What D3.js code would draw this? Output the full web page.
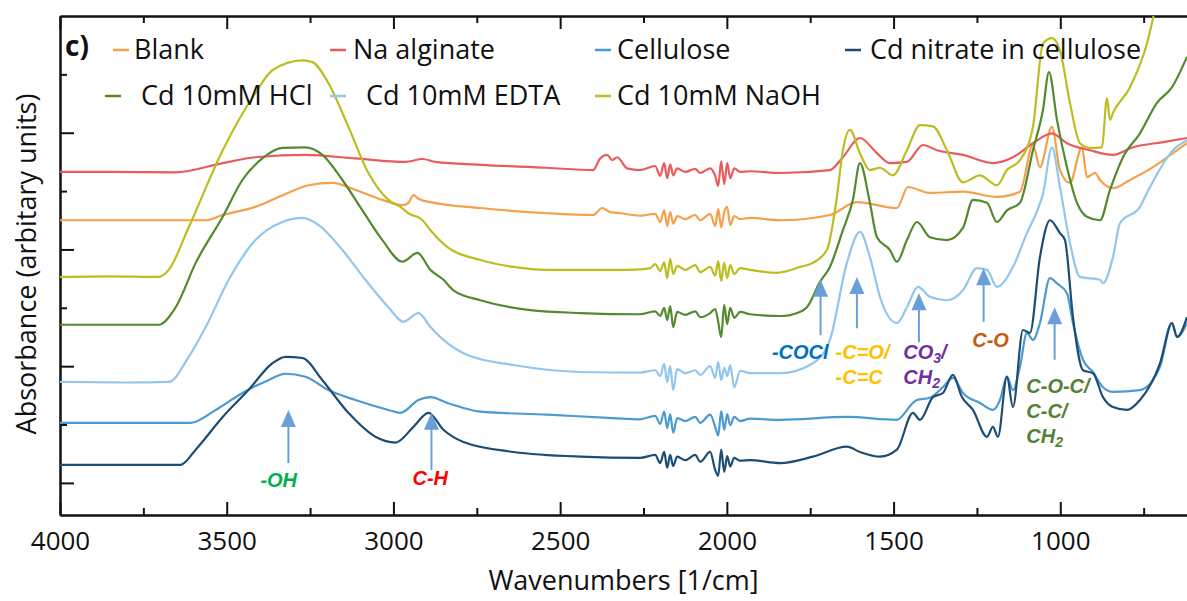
<!DOCTYPE html>
<html>
<head>
<meta charset="utf-8">
<script src="https://cdn.jsdelivr.net/npm/d3@7"></script>
<style>
    body { margin: 0; background: #fff; }
    svg { display: block; }
    text { font-family: "Open Sans", sans-serif; fill: #111; }
    .axis path, .axis line { stroke: #111; stroke-width: 2; }
    .axis text { font-size: 26px; fill: #111; font-family: "Open Sans", sans-serif; }
    .note { font-family: "Liberation Sans", Arial, sans-serif; font-weight: bold; font-style: italic; font-size: 20px; }
</style>
</head>
<body>
<div id="chart"></div>
<script>
// spectra: [wavenumber, absorbance (arb. units, stacked)]
var blank = [[4000,5.50],[3800,5.50],[3563,5.50],[3512,5.59],[3414,5.73],[3315,5.97],[3255,6.10],[3183,6.14],[3114,6.02],[3033,5.85],[2973,5.76],[2955,5.80],[2940,5.93],[2925,5.87],[2889,5.81],[2739,5.71],[2539,5.62],[2401,5.59],[2374,5.71],[2350,5.64],[2320,5.62],[2260,5.58],
    [2215,5.61],[2200,5.47],[2188,5.67],[2179,5.40],[2170,5.64],[2161,5.44],[2149,5.57],[2125,5.52],[2095,5.59],[2080,5.50],[2050,5.61],[2035,5.40],[2026,5.69],[2017,5.38],[2008,5.64],[1999,5.73],[1990,5.42],[1978,5.57],[1960,5.52],[1930,5.54],
    [1840,5.50],[1691,5.59],[1610,5.81],[1490,5.71],[1457,6.07],[1391,5.97],[1292,5.99],[1190,5.90],[1121,5.99],[1082,6.79],[1061,6.41],[1025,7.10],[1001,6.36],[971,6.14],[935,6.75],[920,6.24],[896,6.31],[881,6.19],[842,6.05],[791,6.19],[722,6.41],[662,6.65],[620,6.82]];

var naAlginate = [[4000,6.33],[3850,6.33],[3653,6.32],[3512,6.48],[3414,6.58],[3264,6.62],[3114,6.56],[2964,6.50],[2913,6.55],[2874,6.50],[2739,6.45],[2540,6.40],[2401,6.36],[2380,6.56],[2359,6.62],[2344,6.53],[2329,6.58],[2299,6.39],[2260,6.36],
    [2215,6.43],[2200,6.26],[2188,6.48],[2179,6.22],[2170,6.46],[2161,6.27],[2149,6.39],[2125,6.33],[2095,6.38],[2080,6.31],[2050,6.39],[2035,6.26],[2026,6.09],[2017,6.51],[2008,6.12],[1999,6.48],[1990,6.22],[1978,6.39],[1960,6.33],[1930,6.34],
    [1840,6.31],[1691,6.36],[1652,6.58],[1601,6.91],[1550,6.65],[1511,6.48],[1460,6.50],[1412,6.79],[1370,6.70],[1292,6.62],[1202,6.48],[1142,6.58],[1082,6.82],[1025,6.99],[980,6.82],[911,6.70],[842,6.62],[782,6.75],[692,6.84],[620,6.91]];

var cellulose = [[4000,2.03],[3800,2.03],[3608,2.03],[3533,2.25],[3453,2.54],[3375,2.76],[3324,2.87],[3264,2.82],[3195,2.59],[3114,2.42],[3015,2.25],[2979,2.20],[2925,2.42],[2889,2.47],[2838,2.37],[2739,2.22],[2539,2.17],[2341,2.11],[2260,2.09],
    [2215,2.15],[2200,2.01],[2188,2.22],[2179,1.94],[2170,2.18],[2161,1.86],[2149,2.11],[2125,2.06],[2095,2.13],[2080,2.03],[2050,2.17],[2035,1.96],[2026,1.81],[2017,2.23],[2008,1.91],[1999,2.18],[1990,1.99],[1978,2.13],[1960,2.06],[1930,2.10],
    [1840,2.08],[1640,2.13],[1490,2.08],[1442,2.37],[1430,2.42],[1391,2.46],[1352,2.64],[1322,2.80],[1292,2.54],[1241,2.37],[1202,2.25],[1181,2.42],[1160,2.82],[1142,2.59],[1121,2.99],[1100,3.57],[1082,3.45],[1061,3.74],[1031,4.51],[1010,4.42],[980,4.25],[962,3.74],[932,3.11],[902,2.90],[872,2.64],[842,2.56],[761,2.59],[701,2.99],[665,3.74],[650,3.50],[620,3.74]];

var cdNitrate = [[4000,1.31],[3800,1.31],[3638,1.31],[3593,1.57],[3512,2.13],[3435,2.59],[3363,3.05],[3324,3.16],[3273,3.14],[3213,2.76],[3135,2.20],[3054,1.79],[2994,1.69],[2940,1.96],[2895,2.20],[2850,1.91],[2790,1.70],[2640,1.53],[2440,1.45],[2260,1.43],
    [2215,1.48],[2200,1.34],[2188,1.53],[2179,1.26],[2170,1.48],[2161,1.29],[2149,1.45],[2125,1.39],[2095,1.48],[2080,1.36],[2050,1.53],[2035,1.22],[2026,1.12],[2017,1.57],[2008,1.19],[1999,1.46],[1990,1.28],[1978,1.43],[1960,1.38],[1930,1.39],
    [1840,1.34],[1742,1.45],[1640,1.62],[1601,1.53],[1541,1.45],[1490,1.57],[1442,2.20],[1421,2.08],[1382,2.47],[1352,2.54],[1322,2.85],[1295,2.47],[1262,2.25],[1220,1.79],[1202,1.96],[1187,1.79],[1160,2.82],[1142,2.30],[1112,3.62],[1091,3.57],[1061,4.87],[1031,5.50],[1001,5.28],[986,5.16],[962,3.84],[932,2.93],[902,2.88],[872,2.47],[842,2.30],[800,2.25],[761,2.42],[701,3.05],[665,3.74],[650,3.50],[620,3.84]];

var cdHCl = [[4000,3.71],[3850,3.71],[3704,3.71],[3653,4.01],[3593,4.77],[3512,5.56],[3453,6.19],[3393,6.56],[3333,6.74],[3264,6.75],[3213,6.62],[3153,6.19],[3093,5.67],[3033,5.16],[2973,4.79],[2928,4.94],[2889,4.65],[2850,4.48],[2820,4.30],[2739,4.13],[2590,3.96],[2440,3.91],[2260,3.89],
    [2215,3.94],[2200,3.86],[2188,4.00],[2179,3.79],[2170,4.03],[2161,3.67],[2149,3.93],[2125,3.88],[2095,3.94],[2080,3.84],[2050,3.91],[2035,3.98],[2026,3.76],[2017,3.50],[2008,4.05],[1999,3.72],[1990,4.00],[1978,3.83],[1960,3.93],[1930,3.89],
    [1840,3.86],[1781,3.93],[1760,4.01],[1721,4.44],[1691,4.70],[1652,5.33],[1622,5.85],[1601,6.48],[1571,5.80],[1550,5.21],[1511,4.99],[1490,4.79],[1460,5.16],[1430,5.47],[1391,5.21],[1340,5.16],[1292,5.37],[1262,5.85],[1220,5.80],[1190,5.47],[1160,5.67],[1121,5.80],[1082,6.70],[1052,7.39],[1034,8.04],[1010,7.22],[980,6.41],[950,5.80],[920,5.56],[881,5.50],[851,6.02],[812,6.58],[761,6.99],[710,7.51],[665,7.78],[620,8.30]];

var cdEDTA = [[4000,2.73],[3800,2.72],[3674,2.73],[3614,3.16],[3563,3.67],[3494,4.48],[3414,5.16],[3333,5.47],[3273,5.54],[3225,5.42],[3153,4.99],[3084,4.48],[3015,4.01],[2970,3.76],[2925,3.91],[2889,3.67],[2850,3.45],[2778,3.19],[2640,3.02],[2440,2.90],[2260,2.89],
    [2215,2.93],[2200,2.83],[2188,3.04],[2179,2.73],[2170,3.00],[2161,2.59],[2149,2.95],[2125,2.88],[2095,2.93],[2080,2.85],[2050,3.00],[2035,2.80],[2026,3.07],[2017,2.76],[2008,2.97],[1999,2.83],[1990,3.02],[1978,2.64],[1960,2.92],[1930,2.88],
    [1840,2.88],[1742,3.05],[1691,3.45],[1640,4.77],[1601,5.30],[1571,4.87],[1541,4.19],[1490,3.74],[1460,4.01],[1427,4.36],[1391,4.19],[1340,4.13],[1292,4.30],[1250,4.68],[1220,4.65],[1190,4.36],[1142,4.70],[1100,5.28],[1070,5.65],[1052,5.95],[1025,6.75],[1001,6.07],[971,5.11],[941,4.53],[881,4.48],[872,4.42],[842,4.87],[821,5.45],[761,5.73],[740,5.97],[662,6.70],[620,6.87]];

var cdNaOH = [[4000,4.53],[3850,4.54],[3704,4.53],[3674,4.65],[3614,5.38],[3512,6.70],[3414,7.68],[3363,8.07],[3273,8.24],[3243,8.21],[3195,7.85],[3135,7.10],[3075,6.31],[3015,5.85],[2979,5.73],[2955,5.62],[2940,5.58],[2928,5.56],[2913,5.50],[2889,5.33],[2838,5.04],[2739,4.82],[2640,4.70],[2539,4.65],[2341,4.65],[2260,4.66],
    [2230,4.68],[2215,4.75],[2200,4.63],[2188,4.78],[2179,4.51],[2170,4.84],[2161,4.58],[2149,4.72],[2125,4.65],[2095,4.73],[2080,4.61],[2050,4.70],[2035,4.55],[2026,4.80],[2017,4.46],[2008,4.77],[1999,4.51],[1990,4.73],[1978,4.58],[1960,4.68],[1930,4.65],
    [1850,4.60],[1781,4.70],[1742,4.77],[1700,4.99],[1670,5.90],[1652,6.70],[1631,7.05],[1601,6.65],[1571,6.36],[1541,6.40],[1502,6.27],[1460,6.70],[1421,7.13],[1382,7.11],[1340,6.70],[1292,6.15],[1241,6.27],[1190,6.10],[1160,6.36],[1121,6.53],[1082,7.10],[1052,8.53],[1025,8.62],[1001,8.41],[971,7.51],[941,6.82],[911,6.74],[875,6.75],[860,7.59],[851,7.22],[842,7.34],[791,7.78],[740,8.53],[716,9.10],[620,10.6]];

var seriesNames = ['Blank', 'Na alginate', 'Cellulose', 'Cd nitrate in cellulose', ' Cd 10mM HCl', 'Cd 10mM EDTA', 'Cd 10mM NaOH'];
var seriesData = [blank, naAlginate, cellulose, cdNitrate, cdHCl, cdEDTA, cdNaOH];
var seriesColors = ['#f5a04b', '#ea5b5e', '#4c9ad0', '#1e4d73', '#548a2e', '#93c6ec', '#bcbd1f'];

var xMajorTicks = [4000, 3500, 3000, 2500, 2000, 1500, 1000];
var xMinorTicks = [3750, 3250, 2750, 2250, 1750, 1250, 750];
var yMajorTicks = [1, 3, 5, 7];
var yMinorTicks = [2, 4, 6, 8];

// band assignments: arrow [wavenumber, tip, tail] and label lines
var arrows = [[3315, 2.25, 1.34], [2886, 2.20, 1.22], [1719, 4.48, 3.53], [1610, 4.53, 3.65], [1424, 4.25, 3.41], [1230, 4.68, 3.76], [1017, 4.01, 3.11]];
var noteText = [['-OH'], ['C-H'], ['-COCl'], ['-C=O/', '-C=C'], ['CO3/', 'CH2'], ['C-O'], ['C-O-C/', 'C-C/', 'CH2']];
var noteColors = ['#00b050', '#ff0000', '#0070c0', '#ffc000', '#7030a0', '#c55a11', '#548235'];
var notePos = [[3399, 0.93], [2943, 0.97], [1865, 3.12], [1674, 3.12], [1471, 3.12], [1264, 3.33], [1102, 2.54]];

var width = 1187,
    height = 601;

var plotLeft = 60,
    plotTop = 16,
    plotBottom = 515;

var svg = d3.select('#chart').append('svg')
    .attr('width', width)
    .attr('height', height)
    .attr('viewBox', '0 0 ' + width + ' ' + height);

var x = d3.scaleLinear().domain([4000, 620]).range([plotLeft, width]);
var y = d3.scaleLinear().domain([0.45, 9]).range([plotBottom, plotTop]);

svg.append('defs').append('clipPath').attr('id', 'plot-clip')
    .append('rect')
    .attr('x', plotLeft).attr('y', plotTop)
    .attr('width', width - plotLeft).attr('height', plotBottom - plotTop);

// axes, all ticks pointing inward
svg.append('g').attr('class', 'axis').attr('transform', 'translate(0,' + plotBottom + ')')
    .call(d3.axisBottom(x).tickValues(xMajorTicks).tickSize(-13).tickSizeOuter(0).tickPadding(17).tickFormat(d3.format('d')));
svg.append('g').attr('class', 'axis').attr('transform', 'translate(0,' + plotBottom + ')')
    .call(d3.axisBottom(x).tickValues(xMinorTicks).tickSize(-7).tickSizeOuter(0).tickFormat(''));
svg.append('g').attr('class', 'axis').attr('transform', 'translate(0,' + plotTop + ')')
    .call(d3.axisTop(x).tickValues(xMajorTicks).tickSize(-13).tickSizeOuter(0).tickFormat(''));
svg.append('g').attr('class', 'axis').attr('transform', 'translate(0,' + plotTop + ')')
    .call(d3.axisTop(x).tickValues(xMinorTicks).tickSize(-7).tickSizeOuter(0).tickFormat(''));
svg.append('g').attr('class', 'axis').attr('transform', 'translate(' + plotLeft + ',0)')
    .call(d3.axisLeft(y).tickValues(yMajorTicks).tickSize(-14).tickSizeOuter(0).tickFormat(''));
svg.append('g').attr('class', 'axis').attr('transform', 'translate(' + plotLeft + ',0)')
    .call(d3.axisLeft(y).tickValues(yMinorTicks).tickSize(-7).tickSizeOuter(0).tickFormat(''));

svg.append('text')
    .attr('x', (plotLeft + width) / 2).attr('y', 590)
    .attr('text-anchor', 'middle')
    .style('font-size', '27px')
    .text('Wavenumbers [1/cm]');

svg.append('text')
    .attr('transform', 'translate(36,' + 264 + ') rotate(-90)')
    .attr('text-anchor', 'middle')
    .style('font-size', '27px')
    .text('Absorbance (arbitary units)');

// spectra
var line = d3.line()
    .x(function (d) { return x(d[0]); })
    .y(function (d) { return y(d[1]); })
    .curve(d3.curveMonotoneX);

svg.append('g').attr('clip-path', 'url(#plot-clip)')
    .selectAll('path').data(seriesData).enter().append('path')
    .attr('d', line)
    .attr('fill', 'none')
    .attr('stroke', function (d, i) { return seriesColors[i]; })
    .attr('stroke-width', 2.2)
    .attr('stroke-linejoin', 'round');

// arrows
var arrowColor = '#6a9fd9';
var arrowG = svg.append('g');
arrows.forEach(function (a) {
    var ax = x(a[0]), tip = y(a[1]), tail = y(a[2]);
    arrowG.append('line')
        .attr('x1', ax).attr('x2', ax)
        .attr('y1', tip + 12).attr('y2', tail)
        .attr('stroke', arrowColor).attr('stroke-width', 2);
    arrowG.append('path')
        .attr('d', 'M' + ax + ',' + tip + 'L' + (ax + 7.5) + ',' + (tip + 17) + 'L' + (ax - 7.5) + ',' + (tip + 17) + 'Z')
        .attr('fill', arrowColor);
});

// labels, digits as subscripts
noteText.forEach(function (lines, i) {
    lines.forEach(function (str, j) {
        var t = svg.append('text')
            .attr('class', 'note')
            .attr('x', x(notePos[i][0]))
            .attr('y', y(notePos[i][1]) + j * 25)
            .style('fill', noteColors[i]);
        var shifted = false;
        str.split(/(\d)/).forEach(function (part) {
            if (!part) return;
            if (/\d/.test(part)) {
                t.append('tspan').attr('dy', 4).style('font-size', '14px').text(part);
                shifted = true;
            } else {
                t.append('tspan').attr('dy', shifted ? -4 : 0).text(part);
                shifted = false;
            }
        });
    });
});

// legend
var legendLineX = [113, 330, 595, 845, 105, 330, 595];
var legendTextX = [134, 353, 617, 870, 134, 366, 617];
var legend = svg.append('g');
seriesNames.forEach(function (name, i) {
    var ly = i < 4 ? 50 : 96;
    legend.append('line')
        .attr('x1', legendLineX[i]).attr('x2', legendLineX[i] + 16)
        .attr('y1', ly).attr('y2', ly)
        .attr('stroke', seriesColors[i]).attr('stroke-width', 2.5);
    legend.append('text')
        .attr('x', legendTextX[i]).attr('y', ly)
        .attr('dy', '0.35em')
        .style('font-size', '27px')
        .style('white-space', 'pre')
        .text(name);
});

svg.append('text')
    .attr('x', 65).attr('y', 46)
    .attr('dy', '0.35em')
    .style('font-size', '28px')
    .style('font-weight', 'bold')
    .text('c)');
</script>
</body>
</html>
